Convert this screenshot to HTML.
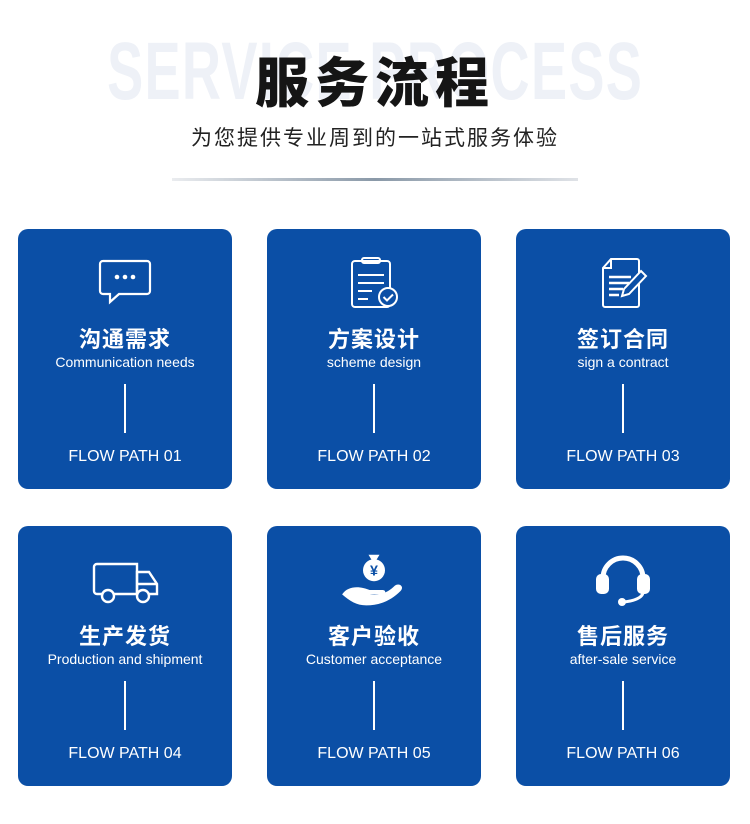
<!DOCTYPE html>
<html><head><meta charset="utf-8"><style>
*{margin:0;padding:0;box-sizing:border-box}
body{width:750px;height:824px;background:#fff;position:relative;overflow:hidden;font-family:"Liberation Sans","Noto Sans CJK SC",sans-serif}
.wmw{position:absolute;left:-31px;width:750px;top:30px;text-align:center;white-space:nowrap}
.wm{display:inline-block;font-size:82px;font-weight:900;color:#eef1f7;letter-spacing:2px;font-family:"Liberation Sans",sans-serif;line-height:84px;white-space:nowrap;transform:scaleX(0.66);transform-origin:center}
.h1{position:absolute;left:0;width:750px;top:44px;text-align:center;font-size:54px;font-weight:900;color:#151515;letter-spacing:6px;line-height:70px;font-family:"Noto Sans CJK SC",sans-serif}
.sub{position:absolute;left:0;width:750px;top:122px;text-align:center;font-size:21px;color:#222;letter-spacing:2px;line-height:30px;font-family:"Noto Sans CJK SC",sans-serif}
.rule{position:absolute;left:172px;top:178px;width:406px;height:3px;background:linear-gradient(90deg,rgba(150,160,175,.2),#8a99a8 50%,rgba(150,160,175,.3))}
.card{position:absolute;width:214px;height:260px;background:#0b4fa6;border-radius:10px;color:#fff;text-align:center}
.ic{position:absolute;left:77px;top:26px;width:60px;height:56px}
.t{position:absolute;left:0;width:214px;top:94px;font-size:22px;font-weight:bold;line-height:30px;letter-spacing:1px;font-family:"Noto Sans CJK SC",sans-serif}
.e{position:absolute;left:0;width:214px;top:124px;font-size:14px;line-height:18px}
.l{position:absolute;left:106px;top:155px;width:2px;height:49px;background:#fff}
.f{position:absolute;left:0;width:214px;top:217px;font-size:16px;line-height:22px;letter-spacing:0}
</style></head><body>
<div class="wmw"><span class="wm">SERVICE PROCESS</span></div>
<div class="h1">服务流程</div>
<div class="sub">为您提供专业周到的一站式服务体验</div>
<div class="rule"></div>

<div class="card" style="left:18px;top:229px">
<svg class="ic" viewBox="0 0 60 56" fill="none" stroke="#fff" stroke-width="2.2"><path d="M8 6h44a3 3 0 0 1 3 3v27a3 3 0 0 1-3 3H24l-9 8v-8H8a3 3 0 0 1-3-3V9a3 3 0 0 1 3-3z"/><circle cx="22" cy="22" r="2.3" fill="#fff" stroke="none"/><circle cx="30" cy="22" r="2.3" fill="#fff" stroke="none"/><circle cx="38" cy="22" r="2.3" fill="#fff" stroke="none"/></svg>
<div class="t">沟通需求</div><div class="e">Communication needs</div><div class="l"></div><div class="f">FLOW PATH 01</div></div>

<div class="card" style="left:267px;top:229px">
<svg class="ic" viewBox="0 0 60 56" fill="none" stroke="#fff" stroke-width="2"><rect x="8" y="6" width="38" height="46" rx="3"/><rect x="18" y="3" width="18" height="5" rx="2"/><path d="M14 20h26M14 28h26M14 36h14M14 44h10"/><circle cx="44" cy="42" r="9" fill="#0b4fa6"/><path d="M39.5 42l3.5 3.5 6-6"/></svg>
<div class="t">方案设计</div><div class="e">scheme design</div><div class="l"></div><div class="f">FLOW PATH 02</div></div>

<div class="card" style="left:516px;top:229px">
<svg class="ic" viewBox="0 0 60 56" fill="none" stroke="#fff" stroke-width="2"><path d="M18 4h26a2 2 0 0 1 2 2v44a2 2 0 0 1-2 2H12a2 2 0 0 1-2-2V13z"/><path d="M10 13h8V4"/><path d="M16 22h22M16 28h20M16 34h14M16 40h10" stroke-width="2.4"/><path d="M48 16l5 5-17 18-7 2 2-7z" fill="#0b4fa6"/></svg>
<div class="t">签订合同</div><div class="e">sign a contract</div><div class="l"></div><div class="f">FLOW PATH 03</div></div>

<div class="card" style="left:18px;top:526px">
<svg class="ic" viewBox="0 0 72 56" style="left:71px;width:72px" fill="none" stroke="#fff" stroke-width="2.4"><path d="M8 12h40v30H8a3 3 0 0 1-3-3V15a3 3 0 0 1 3-3z"/><path d="M48 20h12l8 12v10H48z"/><path d="M48 32h20"/><circle cx="19" cy="44" r="6" fill="#0b4fa6"/><circle cx="54" cy="44" r="6" fill="#0b4fa6"/></svg>
<div class="t">生产发货</div><div class="e">Production and shipment</div><div class="l"></div><div class="f">FLOW PATH 04</div></div>

<div class="card" style="left:267px;top:526px">
<svg class="ic" viewBox="0 0 60 56" style="left:74px;width:66px;top:22px;height:62px" fill="#fff"><path d="M25 6h10l-3 5h-4z"/><ellipse cx="30" cy="20" rx="10" ry="10"/><text x="30" y="25" font-size="13" font-weight="bold" fill="#0b4fa6" text-anchor="middle" font-family="Liberation Sans">¥</text><path d="M1 42c6-9 18-7 25-4h12c3 0 3 4 0 4H26c7 1 15 0 23-8 4-3 9 1 5 5-8 8-18 13-31 13-9 0-15-4-22-10z"/></svg>
<div class="t">客户验收</div><div class="e">Customer acceptance</div><div class="l"></div><div class="f">FLOW PATH 05</div></div>

<div class="card" style="left:516px;top:526px">
<svg class="ic" viewBox="0 0 60 56" fill="none" stroke="#fff" stroke-width="5"><path d="M10 34V26a20 20 0 0 1 40 0v8"/><rect x="3" y="22" width="13" height="20" rx="5" fill="#fff" stroke="none"/><rect x="44" y="22" width="13" height="20" rx="5" fill="#fff" stroke="none"/><path d="M50 40c0 6-10 9-19 10" stroke-width="3"/><circle cx="29" cy="50" r="4" fill="#fff" stroke="none"/></svg>
<div class="t">售后服务</div><div class="e">after-sale service</div><div class="l"></div><div class="f">FLOW PATH 06</div></div>
</body></html>
